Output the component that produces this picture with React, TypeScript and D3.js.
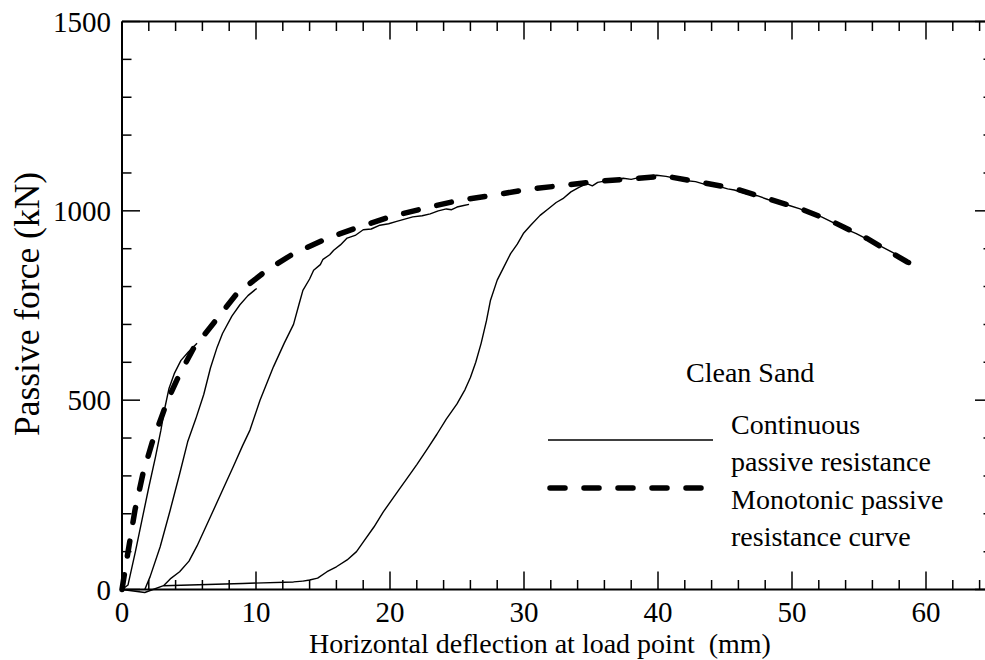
import React from "react";
import * as d3 from "d3";

const W = 985;
const H = 660;

// Monotonic passive resistance curve (dashed)
const monoX = [0, 0.35, 0.97, 1.57, 2.3, 2.96, 3.4, 4.2, 5.32, 6.8, 8.56, 10.8, 12.8, 15.3, 17.5, 20, 22.7, 25.2, 27.7, 30.3, 32.9, 35.5, 38.2, 40.5, 43.1, 45.7, 48.2, 50.6, 53, 55.6, 58.6, 59.7];
const monoY = [0, 78, 210, 307, 394, 456, 500, 561, 636, 702, 781, 843, 887, 927, 955, 984, 1008, 1028, 1041, 1057, 1067, 1078, 1085, 1092, 1076, 1059, 1032, 1006, 972, 927, 865, 850];

// Continuous passive resistance: first loading branch
const loadAX = [0, 0.45, 1.0, 1.5, 2.0, 2.5, 2.9, 3.2, 3.5, 3.9, 4.4, 4.95, 5.6];
const loadAY = [0, 12, 100, 185, 270, 350, 420, 480, 530, 570, 605, 627, 650];

// second loading branch
const loadBX = [1.7, 2.1, 2.85, 3.6, 4.3, 4.9, 5.5, 6.1, 6.6, 7.1, 7.5, 8.2, 8.8, 9.4, 10.05];
const loadBY = [0, 34, 113, 210, 305, 390, 450, 515, 585, 640, 676, 722, 752, 776, 795];

// third loading branch
const loadCX = [3.1, 3.6, 4.3, 5.0, 5.6, 6.6, 7.5, 8.3, 9.0, 9.55, 10.3, 11.3, 12.1, 12.8, 13.2, 13.5, 14.0, 14.3, 14.8, 15.0, 15.5, 15.8, 16.3, 16.8, 17.4, 18.0, 18.6, 19.25, 19.9, 20.5, 21.1, 21.7, 22.4, 23.0, 23.6, 24.2, 24.6, 25.0, 25.5, 25.9];
const loadCY = [10, 28, 47, 75, 115, 192, 262, 324, 380, 421, 500, 588, 650, 700, 752, 790, 820, 843, 858, 872, 884, 896, 910, 928, 935, 950, 952, 962, 966, 972, 978, 984, 987, 992, 1000, 1005, 1003, 1010, 1014, 1017];

// baseline connection between cycles
const baseX = [0, 1.7, 3.1, 9.0, 12.8, 13.5];
const baseY = [0, -8, 10, 16, 20, 22];

// fourth loading branch (to the end of test)
const loadDX = [13.5, 14, 14.6, 15.3, 16.0, 16.8, 17.5, 18, 18.8, 19.5, 20.7, 21.3, 22, 22.8, 23.5, 24.2, 25, 25.6, 26, 26.4, 26.8, 27.2, 27.5, 28, 28.5, 29, 29.5, 29.95, 30.5, 31.2, 31.8, 32.4, 32.9, 33.5, 34.1, 34.7, 35.1, 35.5, 36.1, 36.7, 37.4, 38.0, 38.7, 39.3, 39.9, 40.6, 41.3, 42, 42.8, 43.5, 44.4, 45.2, 45.7, 46.6, 47.4, 48.2, 49.0, 49.8, 50.6, 51.5, 52.2, 53, 53.8, 54.8, 55.6, 56.5, 57.5, 58.1, 58.6];
const loadDY = [22, 25, 30, 47, 60, 78, 100, 125, 165, 205, 265, 295, 330, 372, 410, 450, 490, 528, 560, 600, 650, 710, 764, 817, 852, 887, 912, 940, 962, 988, 1005, 1022, 1032, 1050, 1062, 1072, 1066, 1075, 1079, 1080, 1086, 1083, 1089, 1092, 1094, 1091, 1086, 1080, 1077, 1070, 1066, 1058, 1055, 1045, 1040, 1030, 1021, 1014, 1005, 992, 984, 970, 955, 940, 925, 909, 890, 878, 862];

const xMajor = [0, 10, 20, 30, 40, 50, 60];
const xMinor = [2, 4, 6, 8, 12, 14, 16, 18, 22, 24, 26, 28, 32, 34, 36, 38, 42, 44, 46, 48, 52, 54, 56, 58, 62, 64];
const yMajor = [0, 500, 1000, 1500];
const yMinor = [100, 200, 300, 400, 600, 700, 800, 900, 1100, 1200, 1300, 1400];

const xTitle = "Horizontal deflection at load point  (mm)";
const yTitle = "Passive force (kN)";
const legendTitle = "Clean Sand";
const legendSolid = ["Continuous", "passive resistance"];
const legendDashed = ["Monotonic passive", "resistance curve"];

const FONT = '"Liberation Serif", "Times New Roman", Times, "DejaVu Serif", serif';

function zip(a: number[], b: number[]): [number, number][] {
  return a.map((v, i) => [v, b[i]] as [number, number]);
}

export default function App() {
  const x = d3.scaleLinear().domain([0, 65]).range([122, 993]);
  const y = d3.scaleLinear().domain([0, 1500]).range([589.5, 21.5]);
  const line = d3
    .line<[number, number]>()
    .x((d) => x(d[0]))
    .y((d) => y(d[1]));

  const x0 = x(0), x1 = x(65), y0 = y(0), y1 = y(1500);
  const majorLen = 18, minorLen = 9.5;

  const thin = { fill: "none", stroke: "#000", strokeWidth: 1.4, strokeLinejoin: "round" as const };
  const txt = { fontFamily: FONT, fill: "#000" };

  return (
    <svg
      width={W}
      height={H}
      style={{ position: "absolute", left: 0, top: 0, background: "#fff", fontFamily: FONT }}
    >
      <rect x={0} y={0} width={W} height={H} fill="#fff" />
      {/* curves */}
      <path d={line(zip(baseX, baseY)) || ""} {...thin} />
      <path d={line(zip(loadAX, loadAY)) || ""} {...thin} />
      <path d={line(zip(loadBX, loadBY)) || ""} {...thin} />
      <path d={line(zip(loadCX, loadCY)) || ""} {...thin} />
      <path d={line(zip(loadDX, loadDY)) || ""} {...thin} />
      <path
        d={line(zip(monoX, monoY)) || ""}
        fill="none"
        stroke="#000"
        strokeWidth={5.5}
        strokeDasharray="15 19"
        strokeLinecap="round"
      />

      {/* frame */}
      <g stroke="#000" strokeWidth={2} fill="none">
        <line x1={x0} y1={y0} x2={x1} y2={y0} />
        <line x1={x0} y1={y1} x2={x1} y2={y1} />
        <line x1={x0} y1={y0} x2={x0} y2={y1} />
        <line x1={x1} y1={y0} x2={x1} y2={y1} />
      </g>
      <g stroke="#000" strokeWidth={1.5}>
        {xMajor.map((t) => (
          <g key={"xM" + t}>
            <line x1={x(t)} x2={x(t)} y1={y0} y2={y0 - majorLen} />
            <line x1={x(t)} x2={x(t)} y1={y1} y2={y1 + majorLen} />
          </g>
        ))}
        {xMinor.map((t) => (
          <g key={"xm" + t}>
            <line x1={x(t)} x2={x(t)} y1={y0} y2={y0 - minorLen} />
            <line x1={x(t)} x2={x(t)} y1={y1} y2={y1 + minorLen} />
          </g>
        ))}
        {yMajor.map((t) => (
          <g key={"yM" + t}>
            <line x1={x0} x2={x0 + majorLen} y1={y(t)} y2={y(t)} />
            <line x1={x1} x2={x1 - majorLen} y1={y(t)} y2={y(t)} />
          </g>
        ))}
        {yMinor.map((t) => (
          <g key={"ym" + t}>
            <line x1={x0} x2={x0 + minorLen} y1={y(t)} y2={y(t)} />
            <line x1={x1} x2={x1 - minorLen} y1={y(t)} y2={y(t)} />
          </g>
        ))}
      </g>

      {/* tick labels */}
      <g fontSize={29}>
        {xMajor.map((t) => (
          <text key={"xl" + t} x={x(t)} y={622} textAnchor="middle" style={txt}>
            {t}
          </text>
        ))}
        {yMajor.map((t) => (
          <text key={"yl" + t} x={111} y={y(t) + 10} textAnchor="end" style={txt}>
            {t}
          </text>
        ))}
      </g>

      {/* axis titles */}
      <text x={309} y={653} fontSize={28} style={{ ...txt, whiteSpace: "pre" }}>
        {xTitle}
      </text>
      <text
        transform={`translate(39, ${304}) rotate(-90)`}
        textAnchor="middle"
        fontSize={35.5}
        style={txt}
      >
        {yTitle}
      </text>

      {/* legend */}
      <g fontSize={28}>
        <text x={686} y={382} style={txt}>{legendTitle}</text>
        <line x1={548} x2={713} y1={440} y2={440} stroke="#000" strokeWidth={1.5} />
        <text x={731} y={434} style={txt}>{legendSolid[0]}</text>
        <text x={731} y={471} style={txt}>{legendSolid[1]}</text>
        <line
          x1={550}
          x2={713}
          y1={488}
          y2={488}
          stroke="#000"
          strokeWidth={5.5}
          strokeDasharray="15 19"
          strokeLinecap="round"
        />
        <text x={731} y={509} style={txt}>{legendDashed[0]}</text>
        <text x={731} y={546} style={txt}>{legendDashed[1]}</text>
      </g>
    </svg>
  );
}
